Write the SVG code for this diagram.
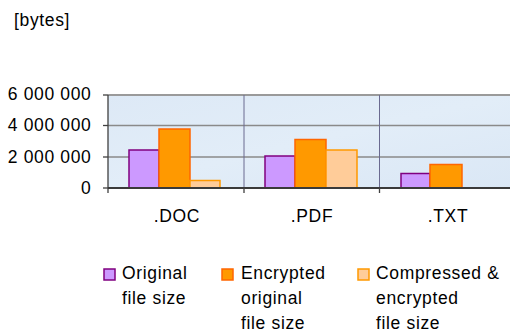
<svg xmlns="http://www.w3.org/2000/svg" width="510" height="332" viewBox="0 0 510 332">
<style>
text{font-family:"Liberation Sans",Arial,sans-serif;font-size:17.5px;fill:#000;letter-spacing:0.65px}
.ylab{text-anchor:end}
.cat{text-anchor:middle}
.grid{stroke:#8a8a8a;stroke-width:1.3}
.sep{stroke:#6a6a90;stroke-width:1}
.axis{stroke:#404040;stroke-width:1.3}
.orig{fill:#cc99ff;stroke:#800080;stroke-width:1.5}
.enc{fill:#ff9900;stroke:#ff6600;stroke-width:1.5}
.comp{fill:#ffcc99;stroke:#ff9900;stroke-width:1.5}
</style>
<defs>
<linearGradient id="bg" x1="0" y1="0" x2="1" y2="1">
<stop offset="0" stop-color="#dde9f6"/>
<stop offset="0.5" stop-color="#e2edf8"/>
<stop offset="1" stop-color="#dae7f5"/>
</linearGradient>
</defs>
<rect width="510" height="332" fill="#fff"/>
<text x="14" y="26">[bytes]</text>
<g id="plot">
<rect x="108" y="95" width="402" height="93" fill="url(#bg)"/>
<line class="grid" x1="108" y1="95" x2="510" y2="95" style="stroke:#9a9a9a;stroke-width:2"/>
<line class="grid" x1="108" y1="125.5" x2="510" y2="125.5"/>
<line class="grid" x1="108" y1="157" x2="510" y2="157"/>
<line class="sep" x1="244" y1="95" x2="244" y2="188"/>
<line class="sep" x1="379.5" y1="95" x2="379.5" y2="188"/>
</g>
<g id="bars">
<rect class="orig" x="129" y="150" width="30" height="38"/>
<rect class="enc" x="159" y="129" width="31" height="59"/>
<rect class="comp" x="190" y="180.5" width="30" height="7.5"/>
<rect class="orig" x="265" y="156" width="30" height="32"/>
<rect class="enc" x="295" y="139.5" width="31" height="48.5"/>
<rect class="comp" x="326" y="150" width="31" height="38"/>
<rect class="orig" x="401" y="173.5" width="29" height="14.5"/>
<rect class="enc" x="430" y="164.5" width="32" height="23.5"/>
</g>
<g id="axes">
<line class="axis" x1="108" y1="95" x2="108" y2="193"/>
<line x1="108" y1="188" x2="510" y2="188" stroke="#3a3a3a" stroke-width="2"/>
<line class="axis" x1="103" y1="95" x2="108" y2="95"/>
<line class="axis" x1="103" y1="125.5" x2="108" y2="125.5"/>
<line class="axis" x1="103" y1="157" x2="108" y2="157"/>
<line class="axis" x1="103" y1="188" x2="108" y2="188"/>
<line class="axis" x1="244" y1="188" x2="244" y2="193"/>
<line class="axis" x1="379.5" y1="188" x2="379.5" y2="193"/>
</g>
<g id="ylabels">
<text class="ylab" x="91.5" y="100">6 000 000</text>
<text class="ylab" x="91.5" y="131">4 000 000</text>
<text class="ylab" x="91.5" y="163">2 000 000</text>
<text class="ylab" x="91.5" y="194">0</text>
</g>
<g id="xlabels">
<text class="cat" x="177" y="222">.DOC</text>
<text class="cat" x="312" y="222">.PDF</text>
<text class="cat" x="448" y="222">.TXT</text>
</g>
<g id="legend">
<g id="leg-orig">
<rect class="orig" x="104" y="269" width="11" height="11"/>
<text x="122" y="279">Original</text>
<text x="122" y="304">file size</text>
</g>
<g id="leg-enc">
<rect class="enc" x="222" y="269" width="11" height="11"/>
<text x="241" y="279">Encrypted</text>
<text x="241" y="304">original</text>
<text x="241" y="329">file size</text>
</g>
<g id="leg-comp">
<rect class="comp" x="358" y="269" width="11" height="11"/>
<text x="376" y="279">Compressed &amp;</text>
<text x="376" y="304">encrypted</text>
<text x="376" y="329">file size</text>
</g>
</g>
</svg>
